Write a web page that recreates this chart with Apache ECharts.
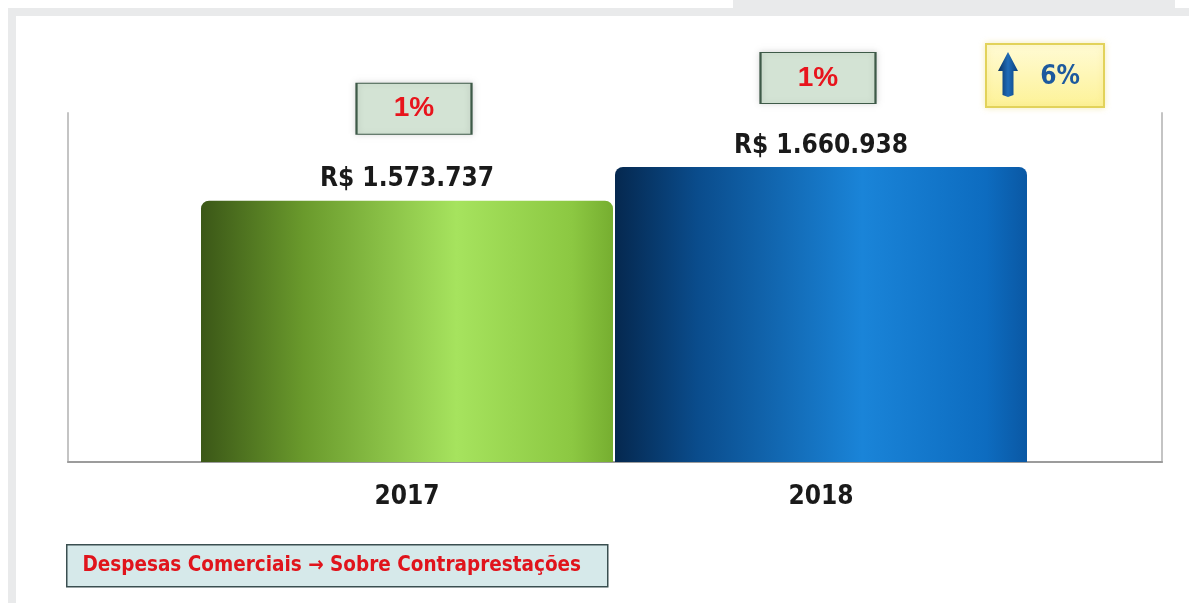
<!DOCTYPE html>
<html>
<head>
<meta charset="utf-8">
<script src="https://cdn.jsdelivr.net/npm/echarts@6/dist/echarts.min.js"></script>
<style>
  html, body { margin: 0; padding: 0; background: #fff; }
  #main { width: 1189px; height: 603px; }
</style>
</head>
<body>
<div id="main"></div>
<script>
// dados do gráfico
const categories = ["2017", "2018"];
const values = [1573737, 1660938];
const sharePct = [1, 1]; // % sobre contraprestações
const growthLabel = "6%";
const footnote = "Despesas Comerciais \u2192 Sobre Contraprestações";

const txtFont = "'DejaVu Sans Condensed', 'DejaVu Sans', sans-serif";

function fmtBRL(v) {
  return "R$ " + String(v).replace(/\B(?=(\d{3})+(?!\d))/g, ".");
}

// gradientes horizontais (efeito cilindro)
const barColors = [
  new echarts.graphic.LinearGradient(0, 0, 1, 0, [
    { offset: 0, color: "#3b5717" },
    { offset: 0.25, color: "#6a9a2c" },
    { offset: 0.62, color: "#a6e35e" },
    { offset: 0.9, color: "#8cc842" },
    { offset: 1, color: "#76ae30" }
  ]),
  new echarts.graphic.LinearGradient(0, 0, 1, 0, [
    { offset: 0, color: "#05284f" },
    { offset: 0.2, color: "#0a4c8c" },
    { offset: 0.6, color: "#1a84d8" },
    { offset: 0.9, color: "#0d6cc0" },
    { offset: 1, color: "#0a58a4" }
  ])
];
const boxOffsets = [[7, -92], [-3, -89]];

let option = {
  backgroundColor: "#fff",
  animation: false,
  grid: [
    // moldura (linhas laterais e base)
    { left: 68, right: 27, top: 113, bottom: 141 },
    // barras
    { left: 200, right: 161, top: 113, bottom: 141 }
  ],
  xAxis: [
    {
      gridIndex: 0, type: "category", data: categories,
      axisLine: { show: true, lineStyle: { color: "#9c9c9c", width: 2 } },
      axisTick: { show: false }, axisLabel: { show: false }
    },
    {
      gridIndex: 1, type: "category", data: categories,
      axisLine: { show: false }, axisTick: { show: false },
      axisLabel: {
        margin: 22, color: "#1a1a1a", fontSize: 26, fontWeight: "bold",
        fontFamily: txtFont
      }
    }
  ],
  yAxis: [
    {
      gridIndex: 0, type: "value", position: "left",
      axisLine: { show: true, lineStyle: { color: "#c4c4c4", width: 2 } },
      axisLabel: { show: false }, axisTick: { show: false }, splitLine: { show: false }
    },
    {
      gridIndex: 0, type: "value", position: "right",
      axisLine: { show: true, lineStyle: { color: "#c4c4c4", width: 2 } },
      axisLabel: { show: false }, axisTick: { show: false }, splitLine: { show: false }
    },
    {
      gridIndex: 1, type: "value", min: 900000, max: 1800000,
      show: false, splitLine: { show: false }
    }
  ],
  series: [
    {
      type: "bar",
      xAxisIndex: 1,
      yAxisIndex: 2,
      barWidth: 412,
      data: values.map((v, i) => ({
        value: v,
        itemStyle: { color: barColors[i], borderRadius: [8, 8, 0, 0] }
      })),
      label: {
        show: true, position: "top", distance: 8,
        color: "#1a1a1a", fontSize: 26, fontWeight: "bold", fontFamily: txtFont,
        formatter: p => fmtBRL(p.value)
      },
      markPoint: {
        symbol: "rect",
        symbolSize: [115, 51],
        itemStyle: {
          color: "#d3e3d4", borderColor: "#3e5a48", borderWidth: 1.5,
          shadowBlur: 6, shadowColor: "rgba(0,0,0,0.15)"
        },
        label: {
          show: true, position: "inside", color: "#e8141c", fontSize: 28,
          fontWeight: "bold", fontFamily: "'Liberation Sans', Arial, sans-serif",
          formatter: p => p.value + "%"
        },
        data: sharePct.map((s, i) => ({
          coord: [categories[i], values[i]],
          value: s,
          symbolOffset: boxOffsets[i]
        }))
      }
    }
  ],
  graphic: [
    // faixas cinzas da moldura da página
    { type: "rect", left: 733, top: 0, shape: { width: 442, height: 8 }, style: { fill: "#e9eaeb" }, z: -10 },
    { type: "rect", left: 8, top: 8, shape: { width: 1181, height: 8 }, style: { fill: "#e9eaeb" }, z: -10 },
    { type: "rect", left: 8, top: 8, shape: { width: 8, height: 595 }, style: { fill: "#e9eaeb" }, z: -10 },
    // caixa amarela com variação
    {
      type: "group", left: 985, top: 43,
      children: [
        {
          type: "rect", shape: { width: 118, height: 63 },
          style: {
            fill: new echarts.graphic.LinearGradient(0, 0, 0, 1, [
              { offset: 0, color: "#fffbd6" },
              { offset: 1, color: "#fdf296" }
            ]),
            stroke: "#e2d25a", lineWidth: 2,
            shadowBlur: 6, shadowColor: "rgba(230,210,80,0.35)"
          }
        },
        {
          type: "polygon",
          shape: { points: [[22, 8], [32, 27], [27.5, 27], [27.5, 51], [22, 53], [16.5, 51], [16.5, 27], [12, 27]] },
          style: {
            fill: new echarts.graphic.LinearGradient(0, 0, 1, 0, [
              { offset: 0, color: "#08305e" },
              { offset: 0.5, color: "#1f6cb8" },
              { offset: 1, color: "#0a3f7c" }
            ])
          }
        },
        {
          type: "text", x: 74, y: 33,
          style: {
            text: growthLabel, fill: "#1d5a9e", fontSize: 26, fontWeight: "bold",
            fontFamily: txtFont, align: "center", verticalAlign: "middle"
          }
        }
      ]
    },
    // legenda inferior
    {
      type: "group", left: 66, top: 544,
      children: [
        {
          type: "rect", shape: { width: 541, height: 42 },
          style: { fill: "#d6e9ea", stroke: "#3a4f50", lineWidth: 1.5 }
        },
        {
          type: "text", x: 265, y: 21,
          style: {
            text: footnote, fill: "#e0141c", fontSize: 20.5, fontWeight: "bold",
            fontFamily: txtFont, align: "center", verticalAlign: "middle"
          }
        }
      ]
    }
  ]
};

echarts.init(document.getElementById("main")).setOption(option);
</script>
</body>
</html>
